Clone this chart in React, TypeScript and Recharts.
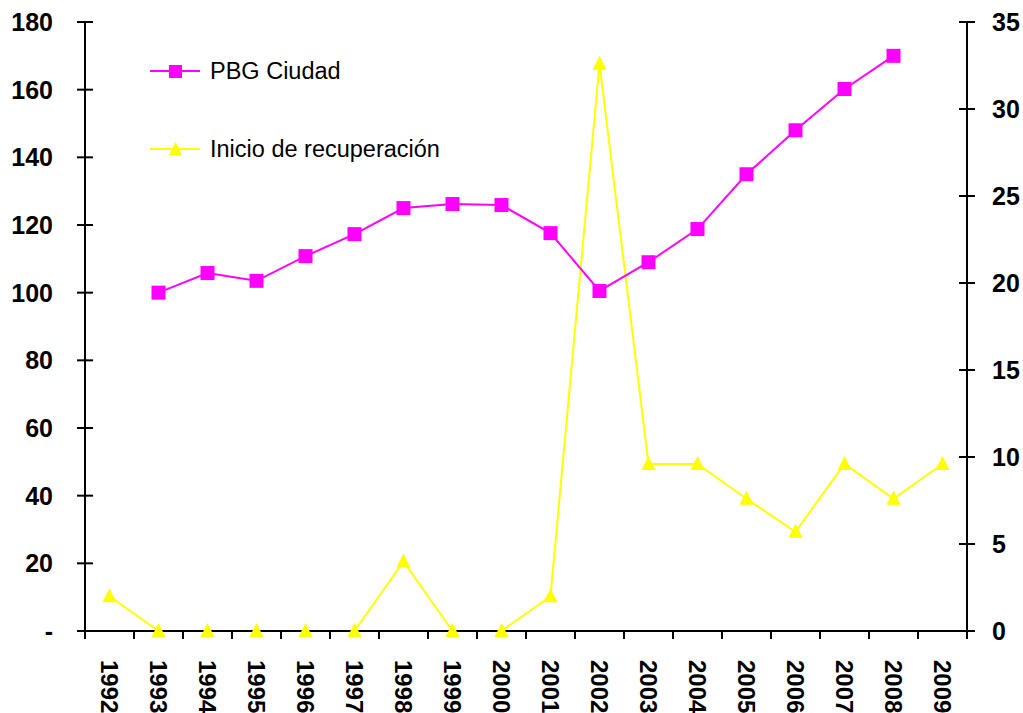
import {
  ComposedChart,
  Line,
  XAxis,
  YAxis,
  Legend,
} from "recharts";

const years = [
  "1992", "1993", "1994", "1995", "1996", "1997", "1998", "1999", "2000",
  "2001", "2002", "2003", "2004", "2005", "2006", "2007", "2008", "2009",
];
const pbgCiudad = [
  null, 100, 105.8, 103.5, 110.8, 117.3, 125, 126.2, 125.9,
  117.6, 100.5, 109, 118.8, 135, 148, 160.2, 170, null,
];
const inicioRecuperacion = [
  2, 0, 0, 0, 0, 0, 4, 0, 0, 2, 32.6, 9.6, 9.6, 7.6, 5.7, 9.6, 7.6, 9.6,
];
const leftTicks = [0, 20, 40, 60, 80, 100, 120, 140, 160, 180];
const rightTicks = [0, 5, 10, 15, 20, 25, 30, 35];
const bandTicks = years.map((_, i) => i).concat(years.length);

const MAGENTA = "#ff00ff";
const YELLOW = "#ffff00";
const FONT = "'Liberation Sans', Arial, sans-serif";

// idx puts each year in the middle of its band on the numeric axis
const data = years.map((year, i) => ({
  year,
  idx: i + 0.5,
  pbg: pbgCiudad[i],
  inicio: inicioRecuperacion[i],
}));

function Square(props: any) {
  const { cx, cy } = props;
  if (cx == null || cy == null) return <g key={props.key} />;
  return <rect key={props.key} x={cx - 7} y={cy - 7} width={14} height={14} fill={MAGENTA} />;
}

function Triangle(props: any) {
  const { cx, cy } = props;
  if (cx == null || cy == null) return <g key={props.key} />;
  return (
    <path
      key={props.key}
      d={`M${cx},${cy - 8} L${cx + 7},${cy + 6} L${cx - 7},${cy + 6} Z`}
      fill={YELLOW}
    />
  );
}

function LeftTick(props: any) {
  const { x, y, payload } = props;
  return (
    <g>
      <line x1={x - 8} x2={x + 8} y1={y} y2={y} stroke="#000" strokeWidth={2} />
      <text
        x={x - 32}
        y={y}
        textAnchor="end"
        dominantBaseline="central"
        fontFamily={FONT}
        fontWeight="bold"
        fontSize={25}
        fill="#000"
      >
        {payload.value === 0 ? "-" : payload.value}
      </text>
    </g>
  );
}

function RightTick(props: any) {
  const { x, y, payload } = props;
  return (
    <g>
      <line x1={x - 8} x2={x + 8} y1={y} y2={y} stroke="#000" strokeWidth={2} />
      <text
        x={x + 25}
        y={y}
        textAnchor="start"
        dominantBaseline="central"
        fontFamily={FONT}
        fontWeight="bold"
        fontSize={25}
        fill="#000"
      >
        {payload.value}
      </text>
    </g>
  );
}

function YearTick(props: any) {
  const { x, y, payload } = props;
  const ty = y + 26;
  return (
    <text
      x={x}
      y={ty}
      transform={`rotate(90, ${x}, ${ty})`}
      textAnchor="start"
      dominantBaseline="central"
      fontFamily={FONT}
      fontWeight="bold"
      fontSize={24}
      fill="#000"
    >
      {payload.value}
    </text>
  );
}

const NoLabel = () => <g />;

function LegendBox() {
  const items = [
    { label: "PBG Ciudad", color: MAGENTA, shape: "square" },
    { label: "Inicio de recuperación", color: YELLOW, shape: "triangle" },
  ];
  return (
    <div>
      {items.map((it, i) => (
        <div
          key={it.label}
          style={{
            display: "flex",
            alignItems: "center",
            height: 20,
            marginBottom: i === 0 ? 58 : 0,
          }}
        >
          <svg width={60} height={20}>
            <line x1={0} x2={50} y1={10} y2={10} stroke={it.color} strokeWidth={2} />
            {it.shape === "square" ? (
              <rect x={19} y={4} width={13} height={13} fill={it.color} />
            ) : (
              <path d="M25.5,3 L32,16 L19,16 Z" fill={it.color} />
            )}
          </svg>
          <span style={{ fontFamily: FONT, fontSize: 23.5, color: "#000" }}>
            {it.label}
          </span>
        </div>
      ))}
    </div>
  );
}

export default function App() {
  return (
    <div style={{ position: "absolute", left: 0, top: 0, background: "#fff" }}>
      <ComposedChart
        width={1023}
        height={713}
        data={data}
        margin={{ top: 22, right: 0, bottom: 0, left: 0 }}
      >
        <XAxis
          xAxisId="b"
          dataKey="year"
          type="category"
          scale="band"
          height={81}
          axisLine={false}
          tickLine={false}
          tickSize={0}
          interval={0}
          tick={<YearTick />}
        />
        <XAxis
          xAxisId="a"
          type="number"
          dataKey="idx"
          domain={[0, years.length]}
          ticks={bandTicks}
          interval={0}
          tick={<NoLabel />}
          tickLine={{ stroke: "#000", strokeWidth: 2 }}
          tickSize={8}
          height={1}
          stroke="#000"
          strokeWidth={2}
          allowDataOverflow
        />
        <YAxis
          yAxisId="l"
          domain={[0, 180]}
          ticks={leftTicks}
          width={85}
          tickSize={0}
          tickMargin={0}
          tickLine={false}
          stroke="#000"
          strokeWidth={2}
          tick={<LeftTick />}
          interval={0}
        />
        <YAxis
          yAxisId="r"
          orientation="right"
          domain={[0, 35]}
          ticks={rightTicks}
          width={56}
          tickSize={0}
          tickMargin={0}
          tickLine={false}
          stroke="#000"
          strokeWidth={2}
          tick={<RightTick />}
          interval={0}
        />
        <Legend
          layout="vertical"
          align="center"
          verticalAlign="middle"
          content={<LegendBox />}
          wrapperStyle={{ left: 150, top: 61, width: 340, height: 100 }}
        />
        <Line
          xAxisId="a"
          yAxisId="r"
          dataKey="inicio"
          stroke={YELLOW}
          strokeWidth={2}
          dot={<Triangle />}
          activeDot={false}
          isAnimationActive={false}
        />
        <Line
          xAxisId="a"
          yAxisId="l"
          dataKey="pbg"
          stroke={MAGENTA}
          strokeWidth={2}
          dot={<Square />}
          activeDot={false}
          isAnimationActive={false}
        />
      </ComposedChart>
    </div>
  );
}
